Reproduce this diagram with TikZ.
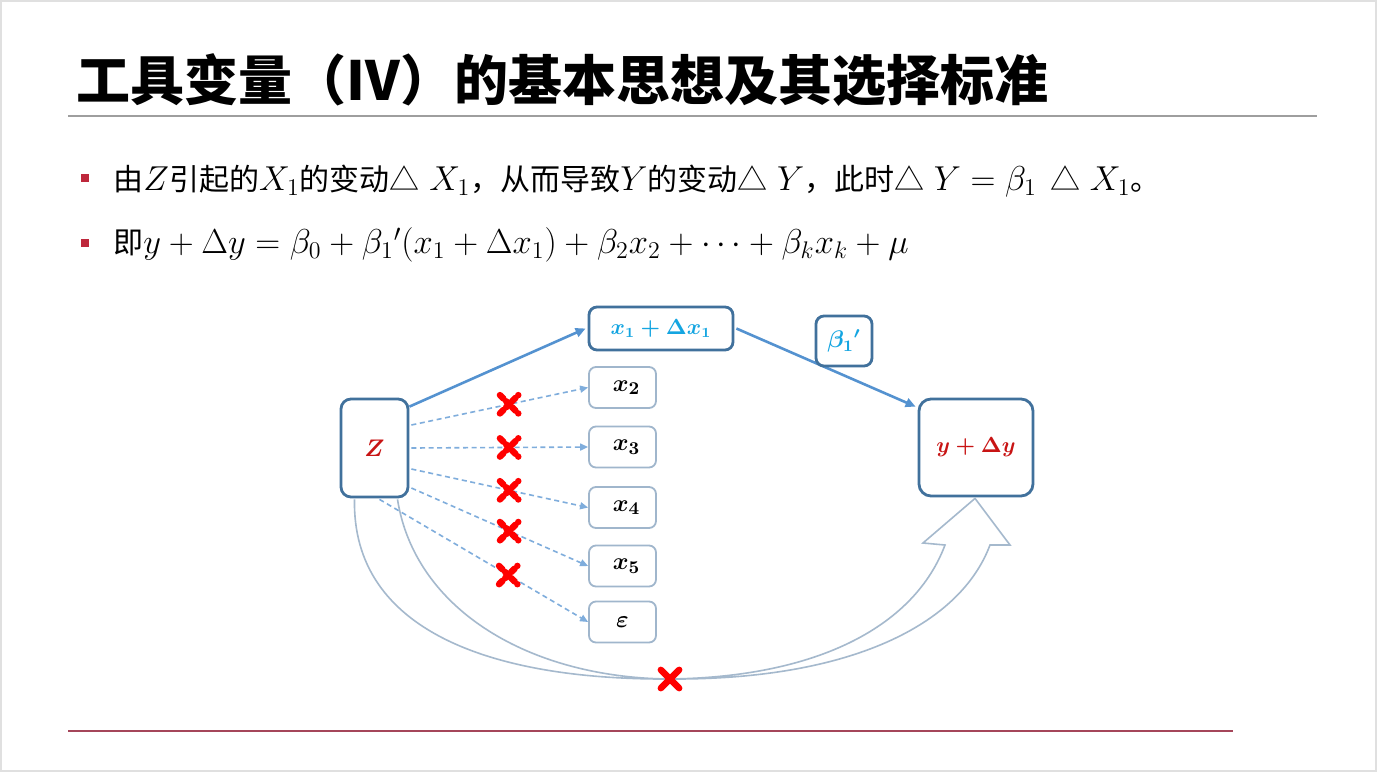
\documentclass[tikz,border=0pt]{standalone}
\usepackage{fontspec}
\usepackage{amsmath,bm}
\newfontfamily\cjk{Noto Sans CJK SC}
\newcommand{\mth}[1]{{\fontsize{17.5}{20}\selectfont$#1$}}
\usetikzlibrary{arrows.meta,calc,shapes.misc}
\definecolor{boxdark}{RGB}{65,113,156}
\definecolor{boxlight}{RGB}{160,182,204}
\definecolor{arrblue}{RGB}{84,146,208}
\definecolor{cyantext}{RGB}{20,165,225}
\definecolor{redtext}{RGB}{200,20,20}
\definecolor{bulletred}{RGB}{190,40,60}
\definecolor{ruled}{RGB}{165,70,90}
\definecolor{curvecol}{RGB}{165,185,205}
\tikzset{
  darkbox/.style={draw=boxdark, line width=1.4pt, rounded corners=4pt, fill=white, inner sep=0pt},
  lightbox/.style={draw=boxlight, line width=0.9pt, rounded corners=3.5pt, fill=white, inner sep=0pt,
    minimum width=33.5pt, minimum height=20.5pt, font=\fontsize{12.5}{14}\selectfont\boldmath},
  mainarrow/.style={draw=arrblue, line width=1.3pt, -{Triangle[length=5pt,width=4.5pt]}},
  dasharrow/.style={draw=arrblue!75, line width=0.8pt, dash pattern=on 2.5pt off 1.8pt,
    -{Triangle[length=4pt,width=3.5pt]}},
  xmark/.style={cross out, draw=red, line width=3.2pt, minimum size=6pt, inner sep=0pt, line cap=round},
  bulletsq/.style={fill=bulletred, minimum size=4pt, inner sep=0pt},
  curveline/.style={draw=curvecol, line width=0.8pt, line join=miter},
}
\begin{document}
\begin{tikzpicture}[x=0.5pt,y=-0.5pt]
\useasboundingbox (0,0) rectangle (1377,772);
\fill[white] (0,0) rectangle (1377,772);
\draw[black!12, line width=0.8pt] (1,1) rectangle (1376,771);

% title
\node[anchor=west, inner sep=0pt] (title) at (76,80)
  {\cjk\bfseries\fontsize{27}{30}\selectfont 工具变量（IV）的基本思想及其选择标准};
\coordinate (tr1) at (68,116);
\coordinate (tr2) at (1317,116);
\draw[black!38, line width=1.3pt] (tr1) -- (tr2);

% bullets
\node[bulletsq] (b1) at (85,178) {};
\node[anchor=west, inner sep=0pt] (l1) at (113,181)
  {\cjk\fontsize{15}{18}\selectfont 由\mth{Z}引起的\mth{X_1}的变动△\mth{\;X_1}，从而导致\mth{Y}的变动△\mth{\;Y}，此时△\mth{\;Y=\beta_1}\;\,△\mth{\;X_1}。};
\node[bulletsq] (b2) at (85,243) {};
\node[anchor=west, inner sep=0pt] (l2) at (113,245)
  {\cjk\fontsize{15}{18}\selectfont 即\mth{y+\Delta y=\beta_0+\beta_1{}'(x_1+\Delta x_1)+\beta_2x_2+\cdots+\beta_kx_k+\mu}};

% nodes of diagram
\node[darkbox, minimum width=33.5pt, minimum height=49pt, rounded corners=5pt,
      font=\fontsize{12.5}{14}\selectfont\boldmath, text=redtext] (Z) at (374.5,448) {$Z$};
\node[darkbox, minimum width=72pt, minimum height=21.5pt,
      font=\fontsize{10.5}{13}\selectfont\boldmath, text=cyantext] (X1) at (661,328.5) {$x_1+\Delta x_1$};
\node[lightbox] (X2) at (622.5,387.5) {\hspace{4pt}$x_2$};
\node[lightbox] (X3) at (622.5,447) {\hspace{4pt}$x_3$};
\node[lightbox] (X4) at (622.5,507.5) {\hspace{4pt}$x_4$};
\node[lightbox] (X5) at (622.5,566) {\hspace{4pt}$x_5$};
\node[lightbox] (EP) at (622.5,622) {$\varepsilon$};
\node[darkbox, minimum width=57pt, minimum height=48.5pt, rounded corners=6pt,
      font=\fontsize{11}{13}\selectfont\boldmath, text=redtext] (Y) at (976,447.5) {$y+\Delta y$};

% main arrows
\draw[mainarrow] ($(Z.north east)+(0,9)$) -- ($(X1.west)+(-2,0)$);
\draw[mainarrow] ($(X1.east)+(2,0)$) -- ($(Y.north west)+(-2,9)$);
\node[darkbox, minimum width=28pt, minimum height=25pt,
      font=\fontsize{11.5}{14}\selectfont\boldmath, text=cyantext] (B1) at (844,341) {$\beta_1{}'$};

% dashed arrows with crosses
\draw[dasharrow] ($(Z.east)+(2,-23)$) -- node[xmark, pos=0.553] (c2) {} (X2.west);
\draw[dasharrow] ($(Z.east)+(2,0)$) -- node[xmark, pos=0.553] (c3) {} (X3.west);
\draw[dasharrow] ($(Z.east)+(2,21)$) -- node[xmark, pos=0.553] (c4) {} (X4.west);
\draw[dasharrow] ($(Z.east)+(2,40)$) -- node[xmark, pos=0.553] (c5) {} (X5.west);
\draw[dasharrow] ($(Z.south)+(5,1)$) -- node[xmark, pos=0.617] (c6) {} (EP.west);

% curved block arrow
\coordinate (lo) at ($(Z.south)+(-20,1)$);
\coordinate (li) at ($(Z.south)+(23,1)$);
\coordinate (tip) at ($(Y.south)+(-1,1)$);
\coordinate (bot) at (670,679);
\draw[curveline] (lo) .. controls (352,630) and (490,680) .. (bot)
  .. controls (850,680) and (960,625) .. (990,545) -- (1010,545) -- (tip) -- (923,543) -- (945,545)
  .. controls (915,625) and (820,677) .. (bot)
  .. controls (530,678) and (415,610) .. (li);
\node[xmark] (c7) at (bot) {};

% bottom rule
\coordinate (br1) at (68,731);
\coordinate (br2) at (1233,731);
\draw[ruled, line width=1.4pt] (br1) -- (br2);
\end{tikzpicture}
\end{document}
